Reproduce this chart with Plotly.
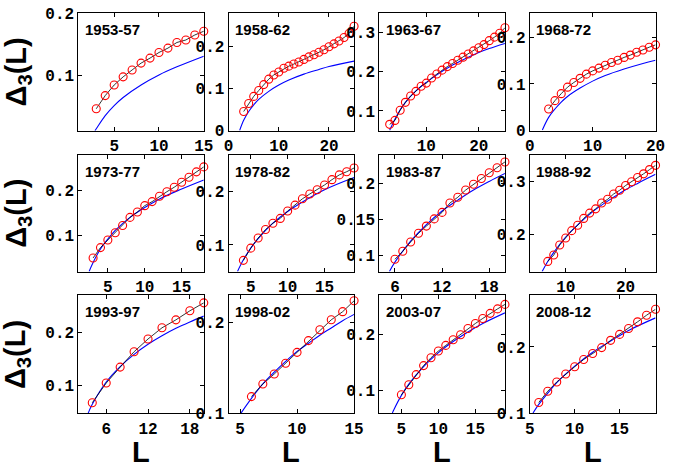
import plotly.graph_objects as go

W, H = 676, 467

periods = ["1953-57", "1958-62", "1963-67", "1968-72",
           "1973-77", "1978-82", "1983-87", "1988-92",
           "1993-97", "1998-02", "2003-07", "2008-12"]

# measured Delta_3(L) (red circles)
L_1953 = list(range(3, 16))
d_1953 = [0.047, 0.068, 0.085, 0.098, 0.109, 0.120, 0.128, 0.137, 0.144, 0.153, 0.157, 0.165, 0.171]
L_1958 = list(range(3, 26))
d_1958 = [0.045, 0.064, 0.081, 0.095, 0.109, 0.122, 0.132, 0.139, 0.148, 0.153, 0.158, 0.163,
          0.169, 0.175, 0.180, 0.186, 0.192, 0.199, 0.206, 0.213, 0.221, 0.231, 0.248]
L_1963 = list(range(3, 26))
d_1963 = [0.066, 0.076, 0.102, 0.122, 0.138, 0.150, 0.163, 0.171, 0.184, 0.194, 0.204, 0.213,
          0.221, 0.229, 0.237, 0.245, 0.253, 0.261, 0.269, 0.279, 0.288, 0.298, 0.312]
L_1968 = list(range(3, 21))
d_1968 = [0.046, 0.064, 0.079, 0.093, 0.103, 0.112, 0.121, 0.128, 0.134, 0.140, 0.146, 0.151,
          0.157, 0.162, 0.168, 0.173, 0.179, 0.184]
L_1973 = list(range(3, 19))
d_1973 = [0.051, 0.074, 0.091, 0.107, 0.123, 0.141, 0.153, 0.167, 0.176, 0.188, 0.198, 0.208,
          0.219, 0.230, 0.242, 0.253]
L_1978 = list(range(4, 20))
d_1978 = [0.071, 0.094, 0.113, 0.129, 0.141, 0.150, 0.164, 0.175, 0.187, 0.196, 0.204, 0.213,
          0.223, 0.232, 0.238, 0.245]
L_1983 = list(range(6, 21))
d_1983 = [0.095, 0.106, 0.119, 0.131, 0.141, 0.151, 0.160, 0.173, 0.181, 0.191, 0.199, 0.207,
          0.215, 0.222, 0.230]
L_1988 = list(range(7, 26))
d_1988 = [0.149, 0.161, 0.180, 0.193, 0.207, 0.217, 0.230, 0.240, 0.248, 0.259, 0.266, 0.276,
          0.283, 0.292, 0.299, 0.307, 0.314, 0.322, 0.330]
L_1993 = [4, 6, 8, 10, 12, 14, 16, 18, 20]
d_1993 = [0.068, 0.105, 0.135, 0.164, 0.188, 0.209, 0.224, 0.241, 0.256]
L_1998 = list(range(6, 16))
d_1998 = [0.118, 0.132, 0.143, 0.155, 0.167, 0.180, 0.192, 0.203, 0.212, 0.224]
L_2003 = list(range(5, 20))
d_2003 = [0.093, 0.111, 0.129, 0.145, 0.159, 0.171, 0.181, 0.191, 0.200, 0.211, 0.220, 0.229,
          0.238, 0.246, 0.254]
L_2008 = list(range(6, 20))
d_2008 = [0.116, 0.133, 0.147, 0.159, 0.170, 0.181, 0.190, 0.199, 0.210, 0.219, 0.228, 0.238,
          0.248, 0.257]

# fitted curves (blue)
fL_1953 = [2.85, 3, 4, 5, 6, 8, 10, 12, 15]
f_1953 = [0.012, 0.015, 0.036, 0.052, 0.065, 0.085, 0.101, 0.114, 0.131]
fL_1958 = [2.2, 3, 4, 5, 6, 8, 10, 12, 15, 18, 20, 25]
f_1958 = [0.0, 0.024, 0.045, 0.061, 0.074, 0.093, 0.108, 0.120, 0.134, 0.145, 0.152, 0.165]
fL_1963 = [3, 4, 5, 6, 8, 10, 12, 15, 18, 20, 22, 25]
f_1963 = [0.051, 0.079, 0.103, 0.122, 0.151, 0.173, 0.192, 0.217, 0.237, 0.249, 0.259, 0.272]
fL_1968 = [2, 3, 4, 5, 6, 8, 10, 12, 15, 18, 20]
f_1968 = [0.001, 0.028, 0.046, 0.061, 0.073, 0.091, 0.106, 0.118, 0.132, 0.144, 0.151]
fL_1973 = [2.46, 3, 4, 5, 6, 8, 10, 12, 15, 18]
f_1973 = [0.021, 0.041, 0.071, 0.093, 0.112, 0.141, 0.163, 0.182, 0.204, 0.224]
fL_1978 = [3.2, 4, 5, 6, 8, 10, 12, 15, 19]
f_1978 = [0.050, 0.072, 0.094, 0.112, 0.141, 0.163, 0.181, 0.204, 0.227]
fL_1983 = [5.3, 6, 8, 10, 12, 14, 16, 18, 20]
f_1983 = [0.078, 0.091, 0.120, 0.143, 0.162, 0.177, 0.191, 0.203, 0.214]
fL_1988 = [6.06, 7, 8, 10, 12, 15, 18, 20, 22, 25]
f_1988 = [0.130, 0.149, 0.166, 0.195, 0.218, 0.247, 0.270, 0.284, 0.296, 0.313]
fL_1993 = [3.4, 4, 6, 8, 10, 12, 14, 16, 18, 20]
f_1993 = [0.048, 0.065, 0.107, 0.136, 0.159, 0.178, 0.194, 0.208, 0.220, 0.231]
fL_1998 = [5.1, 6, 7, 8, 9, 10, 11, 12, 13, 14, 15]
f_1998 = [0.100, 0.116, 0.132, 0.145, 0.157, 0.168, 0.177, 0.186, 0.194, 0.202, 0.209]
fL_2003 = [3.76, 4, 5, 6, 8, 10, 12, 14, 16, 19]
f_2003 = [0.060, 0.067, 0.092, 0.112, 0.143, 0.168, 0.188, 0.205, 0.220, 0.239]
fL_2008 = [5.36, 6, 7, 8, 10, 12, 14, 16, 19]
f_2008 = [0.100, 0.113, 0.130, 0.146, 0.171, 0.192, 0.209, 0.225, 0.244]

data_L = [L_1953, L_1958, L_1963, L_1968, L_1973, L_1978, L_1983, L_1988, L_1993, L_1998, L_2003, L_2008]
data_d = [d_1953, d_1958, d_1963, d_1968, d_1973, d_1978, d_1983, d_1988, d_1993, d_1998, d_2003, d_2008]
fit_L = [fL_1953, fL_1958, fL_1963, fL_1968, fL_1973, fL_1978, fL_1983, fL_1988, fL_1993, fL_1998, fL_2003, fL_2008]
fit_d = [f_1953, f_1958, f_1963, f_1968, f_1973, f_1978, f_1983, f_1988, f_1993, f_1998, f_2003, f_2008]

# axis ranges / tick spacing per panel
x_ranges = [[1, 15], [0, 25], [1, 25], [0, 20], [1, 18], [2, 19],
            [4, 20], [4, 25], [2, 20], [4, 15], [2, 19], [5, 19]]
y_ranges = [[0.012, 0.2005], [-0.0005, 0.28], [0.05, 0.35], [-0.0005, 0.253],
            [0.021, 0.28], [0.05, 0.27], [0.078, 0.24], [0.13, 0.35],
            [0.048, 0.27], [0.0995, 0.23], [0.06, 0.27], [0.0995, 0.278]]
x_dtick = [5, 10, 10, 10, 5, 5, 6, 10, 6, 5, 5, 5]
y_dtick = [0.1, 0.1, 0.1, 0.1, 0.1, 0.1, 0.05, 0.1, 0.1, 0.1, 0.1, 0.1]

# panel boxes in pixels
col_px = [(75, 203.3), (228.7, 357), (382.7, 511.3), (536.7, 665.3)]
row_px = [(6, 128.3), (153.3, 274.5), (299.3, 421.7)]

tick_font = dict(family="Liberation Mono", size=16, color="black", weight="bold")
lab_font = dict(family="Liberation Sans", color="black")

fig = go.Figure()
layout = {}
annotations = []

for i in range(12):
    r, c = divmod(i, 4)
    n = "" if i == 0 else str(i + 1)
    xa, ya = "x" + n, "y" + n

    fig.add_trace(go.Scatter(x=fit_L[i], y=fit_d[i], mode="lines", line_shape="spline",
                             line=dict(color="#0000ff", width=1.1),
                             xaxis=xa, yaxis=ya, showlegend=False))
    fig.add_trace(go.Scatter(x=data_L[i], y=data_d[i], mode="lines+markers",
                             line=dict(color="black", width=0.8),
                             marker=dict(symbol="circle-open", color="red", size=8,
                                         line=dict(width=1.1, color="red")),
                             cliponaxis=False, xaxis=xa, yaxis=ya, showlegend=False))

    x0, x1 = col_px[c]
    y0, y1 = row_px[r]
    common = dict(showline=True, linecolor="black", linewidth=1, mirror="ticks",
                  ticks="inside", ticklen=4, tickwidth=1, tickcolor="black",
                  showgrid=False, zeroline=False, tickfont=tick_font, tick0=0,
                  ticklabeloverflow="allow")
    layout["xaxis" + n] = dict(domain=[x0 / W, x1 / W], anchor=ya, range=x_ranges[i],
                               dtick=x_dtick[i], **common)
    layout["yaxis" + n] = dict(domain=[1 - y1 / H, 1 - y0 / H], anchor=xa, range=y_ranges[i],
                               dtick=y_dtick[i], **common)

    annotations.append(dict(text="<b>" + periods[i] + "</b>", xref=xa + " domain", yref=ya + " domain",
                            x=0.035, y=0.95, xanchor="left", yanchor="top", showarrow=False,
                            font=dict(size=15, **lab_font)))

for r in range(3):
    y0, y1 = row_px[r]
    annotations.append(dict(text="<b>Δ<sub>3</sub>(L)</b>", xref="paper", yref="paper",
                            x=13 / W, y=1 - (y0 + y1) / 2 / H, textangle=-90,
                            xanchor="center", yanchor="middle", showarrow=False,
                            font=dict(size=29, **lab_font)))

for c in range(4):
    x0, x1 = col_px[c]
    annotations.append(dict(text="<b>L</b>", xref="paper", yref="paper",
                            x=(x0 + x1) / 2 / W, y=1 - 462 / H,
                            xanchor="center", yanchor="middle", showarrow=False,
                            font=dict(size=29, **lab_font)))

fig.update_layout(width=W, height=H, margin=dict(l=0, r=0, t=0, b=0),
                  paper_bgcolor="white", plot_bgcolor="white",
                  annotations=annotations, **layout)

# the page body has a default margin; drop it so the figure sits at (0, 0)
fig.write_html("out.html", config={"displayModeBar": False},
               post_script="document.body.style.margin='0';")
